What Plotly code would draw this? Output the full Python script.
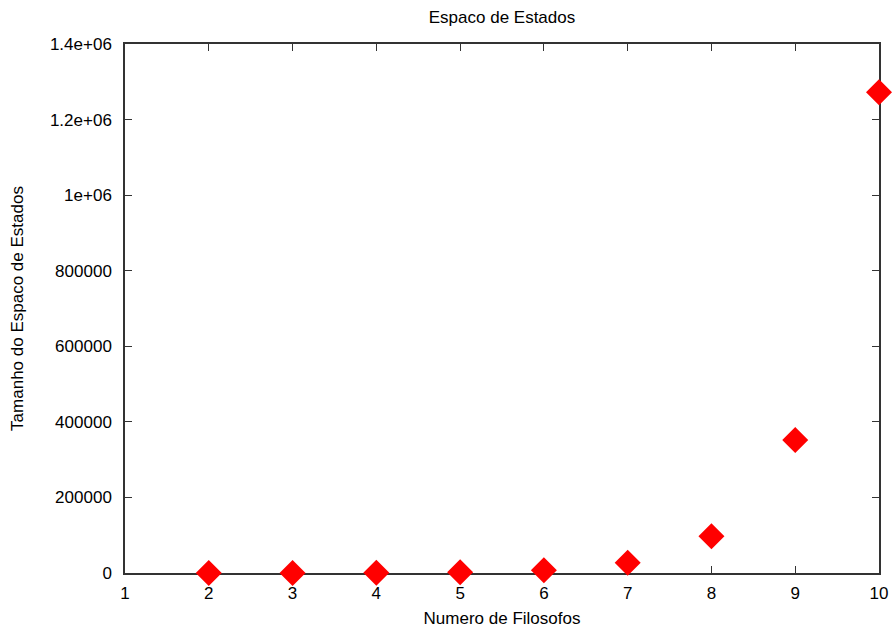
import plotly.graph_objects as go

filosofos = [2, 3, 4, 5, 6, 7, 8, 9, 10]
estados = [45, 160, 580, 2100, 7500, 27000, 97000, 352000, 1272000]

x_ticks = [1, 2, 3, 4, 5, 6, 7, 8, 9, 10]
y_ticks = [0, 200000, 400000, 600000, 800000, 1000000, 1200000, 1400000]
y_labels = ["0", "200000", "400000", "600000", "800000", "1e+06", "1.2e+06", "1.4e+06"]

fig = go.Figure()
fig.add_trace(go.Scatter(
    x=filosofos, y=estados, mode="markers",
    marker=dict(symbol="diamond", size=20, color="#ff0000"),
    cliponaxis=False, showlegend=False,
))

FAM = "Liberation Sans, Arial, sans-serif"
font = dict(family=FAM, size=17, color="#000000")
axis_common = dict(
    showline=True, linecolor="#333333", linewidth=1.5, mirror="ticks",
    ticks="inside", ticklen=7, tickcolor="#333333", tickwidth=1.3,
    showgrid=False, zeroline=False, tickfont=font, automargin=False,
    layer="below traces",
)

W, H = 892, 628
fig.update_layout(
    width=W, height=H,
    paper_bgcolor="white", plot_bgcolor="white",
    margin=dict(l=125, r=13, t=44, b=55),
    title=dict(text="Espaco de Estados", x=502 / W, xanchor="center",
               y=1 - 17 / H, yanchor="middle", font=font),
    xaxis=dict(range=[1, 10], tickvals=x_ticks, ticktext=[str(v) for v in x_ticks],
               ticklabelstandoff=4,
               title=dict(text="Numero de Filosofos", font=font, standoff=10), **axis_common),
    yaxis=dict(range=[0, 1400000], tickvals=y_ticks, ticktext=y_labels,
               ticklabelstandoff=8,
               title=dict(text="Tamanho do Espaco de Estados", font=font, standoff=22), **axis_common),
)

post = "document.body.style.margin='0';"
fig.write_html("out.html", post_script=post, config={"displayModeBar": False})
